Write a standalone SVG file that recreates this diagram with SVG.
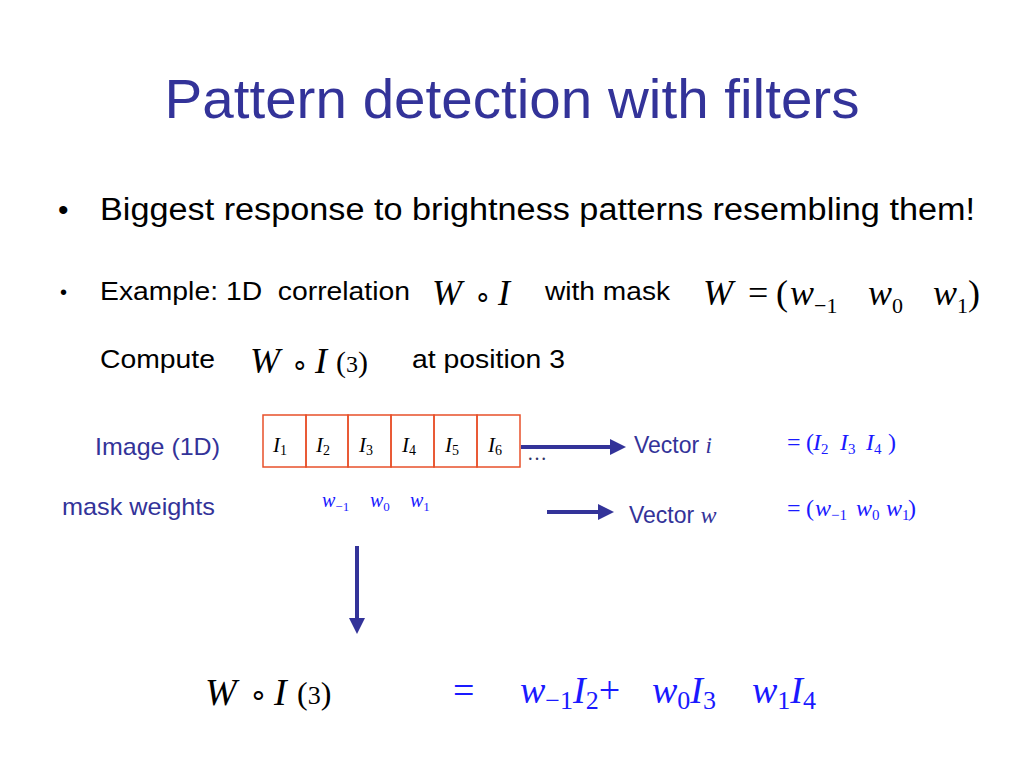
<svg xmlns="http://www.w3.org/2000/svg" width="1024" height="768" viewBox="0 0 1024 768">
<style>
.sans{font-family:"Liberation Sans",Arial,sans-serif}
.ser{font-family:"Liberation Serif","Times New Roman",serif}
.it{font-style:italic}
.navy{fill:#333399}
.blk{fill:#000}
.blue{fill:#1a1aff}
.cell{fill:none;stroke:#e8502a;stroke-width:1.5}
.conn{stroke:#333399;stroke-width:4;fill:none}
</style>
<defs>
<marker id="ah" markerWidth="4" markerHeight="4" refX="0.5" refY="2" orient="auto" markerUnits="strokeWidth">
<path d="M0,0 L4,2 L0,4 z" fill="#333399"/>
</marker>
</defs>
<rect width="1024" height="768" fill="#fff"/>
<g id="title"><text x="512" y="118" text-anchor="middle" class="sans navy" font-size="55" textLength="695" lengthAdjust="spacingAndGlyphs">Pattern detection with filters</text></g>
<g id="bullet1">
<text x="58" y="220" class="sans blk" font-size="30">•</text>
<text x="100" y="220" class="sans blk" font-size="31" textLength="875" lengthAdjust="spacingAndGlyphs">Biggest response to brightness patterns resembling them!</text>
</g>
<g id="bullet2">
<text x="60" y="299" class="sans blk" font-size="20">•</text>
<text x="100" y="300" class="sans blk" font-size="26" textLength="310" lengthAdjust="spacingAndGlyphs" xml:space="preserve">Example: 1D  correlation</text>
<text x="432" y="305" class="ser it blk" font-size="36">W</text>
<text x="474" y="305" class="ser blk" font-size="28">∘</text>
<text x="498" y="305" class="ser it blk" font-size="36">I</text>
<text x="545" y="300" class="sans blk" font-size="26" textLength="125" lengthAdjust="spacingAndGlyphs">with mask</text>
<text x="703" y="305" class="ser blk" font-size="36"><tspan class="it">W</tspan><tspan x="748">=</tspan><tspan x="776">(</tspan><tspan x="790" class="it">w</tspan><tspan font-size="22" dy="8">−1</tspan><tspan x="868" dy="-8" class="it">w</tspan><tspan font-size="22" dy="8">0</tspan><tspan x="933" dy="-8" class="it">w</tspan><tspan font-size="22" dy="8">1</tspan><tspan dy="-8">)</tspan></text>
</g>
<g id="compute">
<text x="100" y="368" class="sans blk" font-size="26" textLength="115" lengthAdjust="spacingAndGlyphs">Compute</text>
<text x="250" y="373" class="ser it blk" font-size="36">W</text>
<text x="291" y="373" class="ser blk" font-size="28">∘</text>
<text x="315" y="373" class="ser it blk" font-size="36">I</text>
<text x="336" y="372" class="ser blk" font-size="30">(<tspan font-size="24">3</tspan>)</text>
<text x="412" y="368" class="sans blk" font-size="26" textLength="153" lengthAdjust="spacingAndGlyphs">at position 3</text>
</g>
<g id="image-row">
<rect class="cell" x="263" y="415" width="43" height="52"/>
<rect class="cell" x="306" y="415" width="42" height="52"/>
<rect class="cell" x="348" y="415" width="43" height="52"/>
<rect class="cell" x="391" y="415" width="43" height="52"/>
<rect class="cell" x="434" y="415" width="43" height="52"/>
<rect class="cell" x="477" y="415" width="43" height="52"/>
<g class="ser blk" font-size="21">
<text x="273" y="452"><tspan class="it">I</tspan><tspan font-size="14" dy="3">1</tspan></text>
<text x="316" y="452"><tspan class="it">I</tspan><tspan font-size="14" dy="3">2</tspan></text>
<text x="359" y="452"><tspan class="it">I</tspan><tspan font-size="14" dy="3">3</tspan></text>
<text x="402" y="452"><tspan class="it">I</tspan><tspan font-size="14" dy="3">4</tspan></text>
<text x="445" y="452"><tspan class="it">I</tspan><tspan font-size="14" dy="3">5</tspan></text>
<text x="488" y="452"><tspan class="it">I</tspan><tspan font-size="14" dy="3">6</tspan></text>
</g>
<text x="527" y="460" class="ser" fill="#333366" font-size="20">…</text>
</g>
<g id="labels">
<text x="95" y="455" class="sans navy" font-size="24" textLength="125" lengthAdjust="spacingAndGlyphs">Image (1D)</text>
<text x="62" y="515" class="sans navy" font-size="24" textLength="153" lengthAdjust="spacingAndGlyphs">mask weights</text>
</g>
<g id="mask-weights" class="ser blue" font-size="20">
<text x="322" y="507"><tspan class="it">w</tspan><tspan font-size="13" dy="4">−1</tspan></text>
<text x="370" y="507"><tspan class="it">w</tspan><tspan font-size="13" dy="4">0</tspan></text>
<text x="410" y="507"><tspan class="it">w</tspan><tspan font-size="13" dy="4">1</tspan></text>
</g>
<g id="vector-i">
<text x="634" y="453" class="sans navy" font-size="23">Vector <tspan class="ser it" font-size="23">i</tspan></text>
<text y="450" class="ser blue" font-size="24"><tspan x="787">=</tspan><tspan x="806">(</tspan><tspan x="813" class="it">I</tspan><tspan font-size="15" dy="4">2</tspan><tspan x="840" dy="-4" class="it">I</tspan><tspan font-size="15" dy="4">3</tspan><tspan x="866" dy="-4" class="it">I</tspan><tspan font-size="15" dy="4">4</tspan><tspan x="888" dy="-4">)</tspan></text>
</g>
<g id="vector-w">
<text x="629" y="523" class="sans navy" font-size="23">Vector <tspan class="ser it" font-size="24">w</tspan></text>
<text y="516" class="ser blue" font-size="24"><tspan x="787">=</tspan><tspan x="806">(</tspan><tspan x="815" class="it">w</tspan><tspan font-size="15" dy="4">−1</tspan><tspan x="856" dy="-4" class="it">w</tspan><tspan font-size="15" dy="4">0</tspan><tspan x="886" dy="-4" class="it">w</tspan><tspan font-size="15" dy="4">1</tspan><tspan x="908" dy="-4">)</tspan></text>
</g>
<g id="connectors">
<line class="conn" x1="521" y1="447" x2="612" y2="447" marker-end="url(#ah)"/>
<line class="conn" x1="547" y1="512" x2="600" y2="512" marker-end="url(#ah)"/>
<line class="conn" x1="357" y1="546" x2="357" y2="620" marker-end="url(#ah)"/>
</g>
<g id="result">
<text x="205" y="705" class="ser it blk" font-size="38">W</text>
<text x="249" y="705" class="ser blk" font-size="30">∘</text>
<text x="274" y="705" class="ser it blk" font-size="38">I</text>
<text x="297" y="704" class="ser blk" font-size="32">(<tspan font-size="26">3</tspan>)</text>
<text x="453" y="703" class="ser blue" font-size="38">=</text>
<text x="520" y="703" class="ser blue" font-size="38"><tspan class="it">w</tspan><tspan font-size="26" dy="6">−1</tspan><tspan class="it" dy="-6">I</tspan><tspan font-size="26" dy="6">2</tspan><tspan dy="-6">+</tspan><tspan x="652" class="it">w</tspan><tspan font-size="26" dy="6">0</tspan><tspan class="it" dy="-6">I</tspan><tspan font-size="26" dy="6">3</tspan><tspan x="752" dy="-6" class="it">w</tspan><tspan font-size="26" dy="6">1</tspan><tspan class="it" dy="-6">I</tspan><tspan font-size="26" dy="6">4</tspan></text>
</g>
</svg>
